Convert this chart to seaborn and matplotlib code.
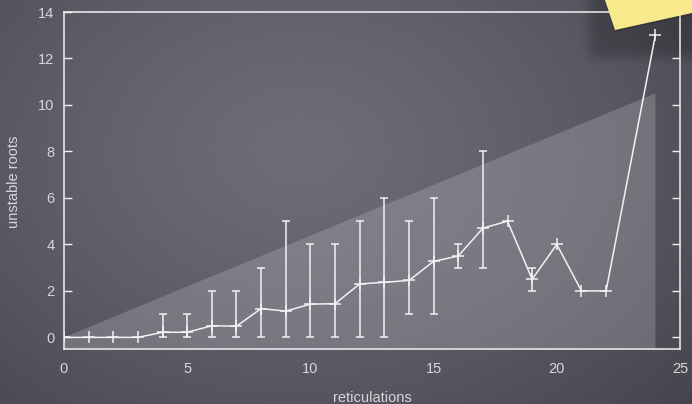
import numpy as np
import matplotlib
matplotlib.use("Agg")
import matplotlib.pyplot as plt
from matplotlib.patches import Polygon
import seaborn as sns
import pandas as pd

# reticulation count vs. mean number of unstable roots, with min/max range
reticulations = [0, 1, 2, 3, 4, 5, 6, 7, 8, 9, 10, 11, 12, 13, 14, 15, 16, 17, 18, 19, 20, 21, 22, 24]
mean_roots = [0, 0, 0, 0, 0.22, 0.22, 0.5, 0.48, 1.24, 1.13, 1.43, 1.45, 2.3, 2.37, 2.45,
              3.27, 3.5, 4.7, 5.0, 2.5, 4.0, 2.0, 2.0, 13.0]
min_roots = [0, 0, 0, 0, 0, 0, 0, 0, 0, 0, 0, 0, 0, 0, 1, 1, 3, 3, 5, 2, 4, 2, 2, 13]
max_roots = [0, 0, 0, 0, 1, 1, 2, 2, 3, 5, 4, 4, 5, 6, 5, 6, 4, 8, 5, 3, 4, 2, 2, 13]
x_ticks = [0, 5, 10, 15, 20, 25]
y_ticks = [0, 2, 4, 6, 8, 10, 12, 14]

df = pd.DataFrame({"reticulations": reticulations, "unstable roots": mean_roots,
                   "lo": min_roots, "hi": max_roots})

sns.set_theme(style="white")
plt.rcParams["font.family"] = ["Liberation Sans", "DejaVu Sans"]

W, H = 692, 404
fig = plt.figure(figsize=(W / 100, H / 100), dpi=100)

# slide background: soft dark grey vignette
bg = fig.add_axes([0, 0, 1, 1], zorder=0)
yy, xx = np.mgrid[0:H, 0:W].astype(float)
d = np.sqrt(((xx - 300) / 540.0) ** 2 + ((yy - 150) / 390.0) ** 2)
base = np.array([0x6e, 0x6c, 0x78]) / 255.0
edge = np.array([0x44, 0x42, 0x4a]) / 255.0
t = np.clip(d, 0, 1)[..., None] ** 1.3
img = base * (1 - t) + edge * t


def smooth(v, a, b):
    s = np.clip((v - a) / (b - a), 0, 1)
    return s * s * (3 - 2 * s)


# soft shadow cast by the sticky note
shadow = smooth(xx, 578, 600) * (1 - smooth(yy, 45, 68)) * 0.22
img = img * (1 - shadow[..., None])

bg.imshow(img, extent=[0, W, H, 0], aspect="auto", interpolation="bilinear")
bg.set_xlim(0, W)
bg.set_ylim(H, 0)
bg.axis("off")

# main plot area
L, R, B, T = 64, 680, 349, 12
ax = fig.add_axes([L / W, (H - B) / H, (R - L) / W, (B - T) / H], zorder=2)
ax.set_facecolor("none")

# light wedge behind the data
wedge = Polygon([(0, 0), (0, 0.0345), (0.96, 0.7586), (0.96, 0)], closed=True,
                transform=ax.transAxes, facecolor="#b4b3ba", alpha=0.32,
                edgecolor="none", zorder=0)
ax.add_patch(wedge)

line_col = "#f2f2f2"
has_range = df["hi"] > df["lo"]
sub = df[has_range]
ax.errorbar(sub["reticulations"], sub["unstable roots"],
            yerr=[sub["unstable roots"] - sub["lo"], sub["hi"] - sub["unstable roots"]],
            fmt="none", ecolor=line_col, elinewidth=1.1, capsize=2.6, capthick=1.1, zorder=3)
sns.lineplot(data=df, x="reticulations", y="unstable roots", ax=ax, color=line_col,
             linewidth=1.1, marker="+", markersize=9, markeredgewidth=1.1,
             markeredgecolor=line_col, zorder=4)

ax.set_xlim(0, 25)
ax.set_ylim(-0.5, 14)
ax.set_xticks(x_ticks)
ax.set_yticks(y_ticks)
ax.set_xlabel("")
ax.set_ylabel("")
txt_col = "#d6d6da"
ax.tick_params(axis="y", direction="in", length=5.5, width=1, color=line_col,
               left=True, right=True, labelsize=10.5, labelcolor=txt_col, pad=7)
ax.tick_params(axis="x", length=0, labelsize=10.5, labelcolor=txt_col, pad=9.5)
for s in ax.spines.values():
    s.set_visible(True)
    s.set_color(line_col)
    s.set_linewidth(1.1)

fig.text(372 / W, 1 - 398 / H, "reticulations", ha="center", va="center",
         color=txt_col, fontsize=10.5)
fig.text(14 / W, 1 - 182 / H, "unstable roots", ha="center", va="center",
         rotation=90, color=txt_col, fontsize=10.5)

# sticky note in the corner
ov = fig.add_axes([0, 0, 1, 1], zorder=5)
ov.set_xlim(0, W)
ov.set_ylim(H, 0)
ov.axis("off")
ov.add_patch(Polygon([(606, 0), (616, 32), (692, 15), (692, 0)], closed=True,
                     facecolor="black", alpha=0.12, edgecolor="none"))
ov.add_patch(Polygon([(605, 0), (615, 30), (692, 13), (692, 0)], closed=True,
                     facecolor="#f8ea8c", edgecolor="none"))

fig.savefig("out.png", dpi=100)
